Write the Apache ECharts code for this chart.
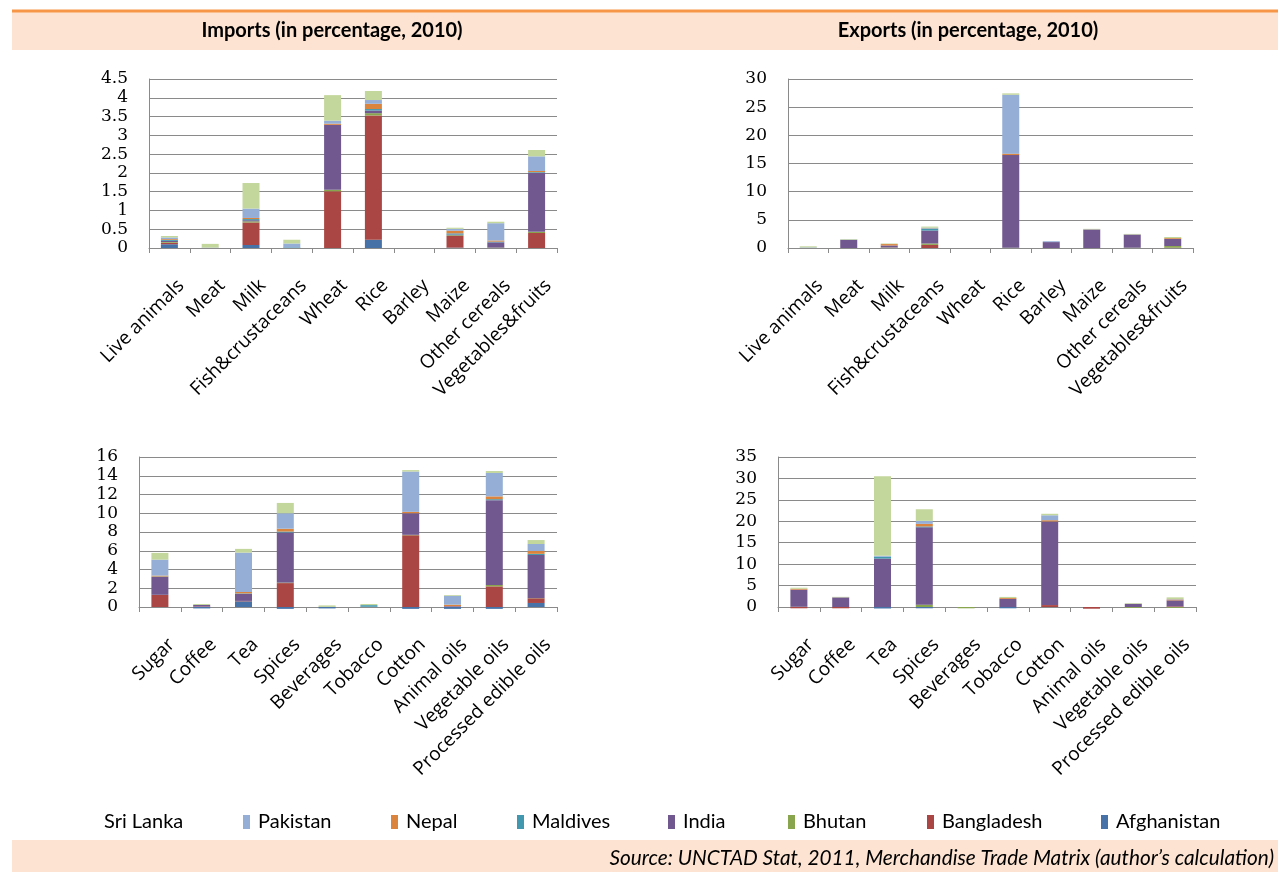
<!DOCTYPE html>
<html>
<head>
<meta charset="utf-8">
<script src="https://cdn.jsdelivr.net/npm/echarts@6/dist/echarts.min.js"></script>
<style>
  html, body { margin: 0; padding: 0; background: #fff; }
  #chart { width: 1278px; height: 872px; }
</style>
</head>
<body>
<div id="chart"></div>
<script>
// Product groups on the category axes
const foodItems = ['Live animals', 'Meat', 'Milk', 'Fish&crustaceans', 'Wheat', 'Rice', 'Barley', 'Maize', 'Other cereals', 'Vegetables&fruits'];
const otherItems = ['Sugar', 'Coffee', 'Tea', 'Spices', 'Beverages', 'Tobacco', 'Cotton', 'Animal oils', 'Vegetable oils', 'Processed edible oils'];

// Countries, in stacking order (bottom to top)
const countries = ['Afghanistan', 'Bangladesh', 'Bhutan', 'India', 'Maldives', 'Nepal', 'Pakistan', 'Sri Lanka'];

// Imports, food products (percentage, 2010)
const impFoodAfghanistan = [0.10, 0, 0.08, 0.01, 0, 0.22, 0, 0.01, 0, 0];
const impFoodBangladesh  = [0.04, 0, 0.60, 0, 1.51, 3.31, 0, 0.31, 0, 0.40];
const impFoodBhutan      = [0.02, 0, 0.03, 0, 0.04, 0.06, 0, 0.02, 0.01, 0.03];
const impFoodIndia       = [0.03, 0, 0.03, 0, 1.73, 0.07, 0, 0.02, 0.14, 1.57];
const impFoodMaldives    = [0.03, 0, 0.03, 0.01, 0, 0.04, 0, 0.03, 0.02, 0.02];
const impFoodNepal       = [0.02, 0, 0.03, 0, 0.03, 0.14, 0, 0.07, 0.03, 0.03];
const impFoodPakistan    = [0.04, 0.01, 0.25, 0.10, 0.08, 0.10, 0, 0.05, 0.46, 0.39];
const impFoodSriLanka    = [0.04, 0.10, 0.68, 0.10, 0.68, 0.24, 0, 0.03, 0.04, 0.17];

// Exports, food products
const expFoodAfghanistan = [0, 0, 0, 0, 0, 0, 0, 0, 0, 0];
const expFoodBangladesh  = [0, 0, 0.05, 0.55, 0, 0, 0, 0, 0, 0.05];
const expFoodBhutan      = [0, 0, 0.05, 0.25, 0, 0.05, 0, 0, 0.05, 0.30];
const expFoodIndia       = [0, 1.45, 0.35, 2.30, 0, 16.45, 1.05, 3.30, 2.35, 1.25];
const expFoodMaldives    = [0, 0, 0, 0.35, 0, 0, 0, 0, 0, 0];
const expFoodNepal       = [0, 0, 0.25, 0.05, 0, 0.25, 0, 0, 0, 0.15];
const expFoodPakistan    = [0.10, 0.05, 0, 0.10, 0, 10.45, 0.15, 0, 0, 0];
const expFoodSriLanka    = [0.20, 0.10, 0.10, 0.20, 0, 0.25, 0, 0.10, 0.10, 0.20];

// Imports, other agricultural products
const impOtherAfghanistan = [0, -0.15, 0.60, -0.20, -0.15, 0.03, -0.20, -0.20, -0.20, 0.43];
const impOtherBangladesh  = [1.28, 0.05, 0.05, 2.55, 0, 0, 7.65, 0.05, 2.20, 0.50];
const impOtherBhutan      = [0.02, 0, 0, 0.05, 0.05, 0, 0.05, 0, 0.15, 0.02];
const impOtherIndia       = [1.90, 0.17, 0.75, 5.35, 0, 0, 2.30, 0.05, 9.05, 4.60];
const impOtherMaldives    = [0.05, 0, 0.05, 0.10, 0, 0.17, 0, 0, 0.10, 0.12];
const impOtherNepal       = [0.10, 0, 0.15, 0.30, 0, 0, 0.15, 0.15, 0.30, 0.30];
const impOtherPakistan    = [1.70, 0, 4.20, 1.65, 0, 0, 4.30, 0.95, 2.50, 0.75];
const impOtherSriLanka    = [0.72, 0.10, 0.40, 1.10, 0.12, 0.12, 0.15, 0.08, 0.20, 0.42];

// Exports, other agricultural products
const expOtherAfghanistan = [0, 0, -0.35, -0.30, 0, -0.30, 0, 0, 0, 0];
const expOtherBangladesh  = [-0.30, -0.30, 0, 0, 0, 0, 0.45, -0.40, 0, 0.15];
const expOtherBhutan      = [0.05, 0, 0, 0.55, -0.30, 0, 0, 0, -0.20, -0.20];
const expOtherIndia       = [4.00, 2.25, 11.30, 18.05, 0, 1.90, 19.50, 0, 0.75, 1.40];
const expOtherMaldives    = [0, 0, 0.45, 0.20, 0, 0, 0, 0, 0, 0];
const expOtherNepal       = [0.20, 0, 0, 0.60, 0, 0.20, 0.30, 0, 0, 0.20];
const expOtherPakistan    = [0, 0, 0.20, 0.70, 0, 0, 1.15, 0, 0, 0.10];
const expOtherSriLanka    = [0.25, 0.12, 18.55, 2.70, 0, 0.25, 0.35, 0, 0.15, 0.40];

// Y-axis ranges per panel
const yMax = [4.5, 30, 16, 35];
const yStep = [0.5, 5, 2, 5];

const panels = [
  [impFoodAfghanistan, impFoodBangladesh, impFoodBhutan, impFoodIndia, impFoodMaldives, impFoodNepal, impFoodPakistan, impFoodSriLanka],
  [expFoodAfghanistan, expFoodBangladesh, expFoodBhutan, expFoodIndia, expFoodMaldives, expFoodNepal, expFoodPakistan, expFoodSriLanka],
  [impOtherAfghanistan, impOtherBangladesh, impOtherBhutan, impOtherIndia, impOtherMaldives, impOtherNepal, impOtherPakistan, impOtherSriLanka],
  [expOtherAfghanistan, expOtherBangladesh, expOtherBhutan, expOtherIndia, expOtherMaldives, expOtherNepal, expOtherPakistan, expOtherSriLanka]
];
const panelCats = [foodItems, foodItems, otherItems, otherItems];

const colors = {
  'Afghanistan': '#4672A8',
  'Bangladesh': '#AA4643',
  'Bhutan': '#89A54E',
  'India': '#71588F',
  'Maldives': '#4198AF',
  'Nepal': '#DB843D',
  'Pakistan': '#95AED6',
  'Sri Lanka': '#C3D69B'
};

const grids = [
  { left: 149, top: 79, width: 408, height: 169 },
  { left: 788, top: 79, width: 405, height: 169 },
  { left: 139, top: 457, width: 418, height: 150 },
  { left: 778, top: 457, width: 418, height: 150 }
];

const gridLineColor = '#8a8a8a';

const xAxes = grids.map((g, i) => ({
  type: 'category',
  gridIndex: i,
  data: panelCats[i],
  axisLine: { show: true, onZero: false, lineStyle: { color: gridLineColor, width: 1 } },
  axisTick: { show: true, length: 5, lineStyle: { color: gridLineColor } },
  axisLabel: {
    rotate: 45,
    interval: 0,
    margin: 23,
    verticalAlign: 'top',
    padding: [7, 0, 0, 0],
    color: '#000',
    fontFamily: 'Open Sans',
    fontSize: 19
  }
}));

const yAxes = grids.map((g, i) => ({
  type: 'value',
  gridIndex: i,
  min: 0,
  max: yMax[i],
  interval: yStep[i],
  axisLine: { show: true, lineStyle: { color: gridLineColor, width: 1 } },
  axisTick: { show: false },
  splitLine: { show: true, lineStyle: { color: gridLineColor, width: 1 } },
  axisLabel: {
    margin: 21,
    color: '#000',
    fontFamily: 'DejaVu Serif',
    fontSize: 17
  }
}));

const series = [];
panels.forEach((arrs, p) => {
  countries.forEach((name, c) => {
    series.push({
      type: 'bar',
      name: name,
      xAxisIndex: p,
      yAxisIndex: p,
      stack: 'panel' + p,
      barWidth: 17,
      clip: false,
      itemStyle: { color: colors[name] },
      emphasis: { disabled: true },
      data: arrs[c]
    });
  });
});

// Legend entries placed individually along the bottom row
const legendLefts = [89, 243, 391, 517, 668, 788, 927, 1101];
const legendOrder = ['Sri Lanka', 'Pakistan', 'Nepal', 'Maldives', 'India', 'Bhutan', 'Bangladesh', 'Afghanistan'];
const legends = legendOrder.map((name, i) => ({
  left: legendLefts[i],
  top: 812,
  padding: 0,
  itemWidth: 7,
  itemHeight: 14,
  itemGap: 0,
  icon: 'rect',
  selectedMode: false,
  textStyle: { fontFamily: 'Lato', fontSize: 20, color: '#000', padding: [0, 0, 0, 3] },
  data: [name === 'Sri Lanka'
    ? { name: name, itemStyle: { opacity: 0 } }
    : { name: name }]
}));

const band = '#FDE4D2';
const option = {
  animation: false,
  backgroundColor: '#ffffff',
  grid: grids,
  xAxis: xAxes,
  yAxis: yAxes,
  legend: legends,
  series: series,
  graphic: [
    { type: 'rect', shape: { x: 12, y: 12, width: 1266, height: 38 }, style: { fill: band }, silent: true },
    { type: 'rect', shape: { x: 12, y: 9.5, width: 1266, height: 3 }, style: { fill: '#F79646' }, silent: true },
    { type: 'text', x: 332, y: 31, style: { text: 'Imports (in percentage, 2010)', fill: '#000', font: 'bold 20px Lato', textAlign: 'center', textVerticalAlign: 'middle' }, silent: true },
    { type: 'text', x: 968, y: 31, style: { text: 'Exports (in percentage, 2010)', fill: '#000', font: 'bold 20px Lato', textAlign: 'center', textVerticalAlign: 'middle' }, silent: true },
    { type: 'rect', shape: { x: 12, y: 840, width: 1266, height: 32 }, style: { fill: band }, silent: true },
    { type: 'text', x: 1274, y: 858, style: { text: 'Source: UNCTAD Stat, 2011, Merchandise Trade Matrix (author\u2019s calculation)', fill: '#000', font: 'italic 20.8px Lato', textAlign: 'right', textVerticalAlign: 'middle' }, silent: true }
  ]
};

const chart = echarts.init(document.getElementById('chart'), null, { renderer: 'canvas' });
chart.setOption(option);
</script>
</body>
</html>
